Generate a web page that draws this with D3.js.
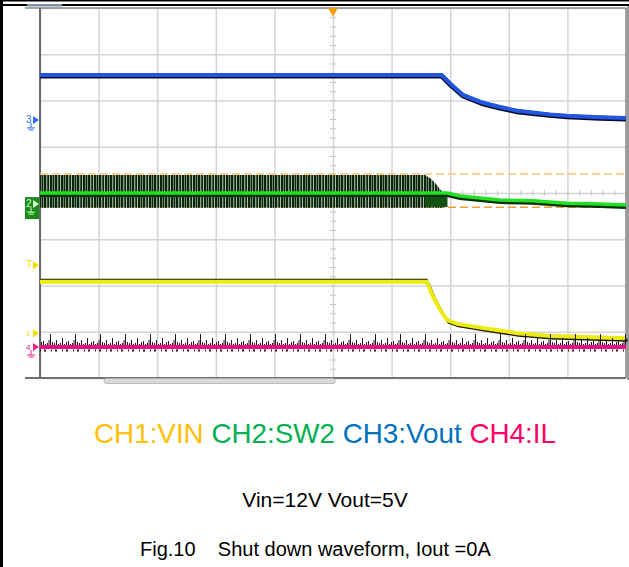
<!DOCTYPE html>
<html>
<head>
<meta charset="utf-8">
<script src="https://cdn.jsdelivr.net/npm/d3@7"></script>
<style>
  html, body { margin: 0; padding: 0; background: #fff; }
  svg { display: block; font-family: "Liberation Sans", Arial, sans-serif; }
</style>
</head>
<body>
<svg class="chart" width="629" height="567"></svg>
<script>
// time in screen divisions (0..10), level in divisions from centre (-4..4)

// CH3 Vout
var voutTime  = [0, 6.855, 6.997, 7.218, 7.56, 7.85, 8.14, 8.41, 8.70, 8.99, 9.56, 10];
var voutLevel = [2.55, 2.55, 2.37, 2.12, 1.95, 1.86, 1.78, 1.74, 1.70, 1.67, 1.64, 1.62];

// CH1 VIN
var vinTime  = [0, 6.60, 6.71, 6.83, 6.95, 7.12, 7.56, 8.14, 8.70, 10];
var vinLevel = [-1.92, -1.92, -2.25, -2.53, -2.75, -2.83, -2.92, -3.03, -3.09, -3.14];

// CH2 SW2 - mean trace and switching envelope
var swTime  = [0, 6.84, 6.95, 7.17, 7.85, 8.41, 8.99, 9.56, 10];
var swLevel = [0, 0, 0, -0.065, -0.15, -0.17, -0.22, -0.24, -0.26];
var swBandTime   = [0, 6.57, 6.66, 6.74, 6.84, 6.95];
var swBandTop    = [0.39, 0.39, 0.32, 0.22, 0.06, -0.04];
var swBandBottom = [-0.32, -0.32, -0.32, -0.32, -0.32, -0.30];

// CH4 IL
var ilTime  = [0, 10];
var ilLevel = [-3.33, -3.33];
var ilNoiseTop = -3.05;

// cursors (dashed orange)
var cursorLevels = [0.41, -0.31];

// channel markers on the left edge
var markerLabels = ["3", "2", "T", "1", "4"];
var markerLevels = [1.58, -0.24, -1.56, -3.03, -3.33];
var markerColors = ["#2a6cf0", "#1a8a1a", "#f0e000", "#f0e000", "#f0208a"];

var legendNames  = ["CH1:VIN", "CH2:SW2", "CH3:Vout", "CH4:IL"];
var legendColors = ["#ffc000", "#00b050", "#0070c0", "#ff0066"];

document.addEventListener("DOMContentLoaded", function() {

    var svg = d3.select("svg.chart");

    var x = d3.scaleLinear().domain([0, 10]).range([40, 626]);
    var y = d3.scaleLinear().domain([-4, 4]).range([378, 8]);

    function zip(t, v) {
        return t.map(function(d, i) { return {t: d, v: v[i]}; });
    }

    var line = d3.line()
        .x(function(d) { return x(d.t); })
        .y(function(d) { return y(d.v); });

    var defs = svg.append("defs");

    // switching stripes
    var sw = defs.append("pattern")
        .attr("id", "swStripes")
        .attr("patternUnits", "userSpaceOnUse")
        .attr("width", 11).attr("height", 400);
    sw.append("rect").attr("width", 11).attr("height", 400).attr("fill", "#aebcae");
    [[0, 2.2], [3.3, 1.7], [6, 2.4], [9, 1.3]].forEach(function(s) {
        sw.append("rect").attr("x", s[0]).attr("width", s[1]).attr("height", 400).attr("fill", "#0a260a");
    });

    // inductor current noise
    var noiseH = y(ilLevel[0]) - y(ilNoiseTop);
    var nz = defs.append("pattern")
        .attr("id", "ilNoise")
        .attr("patternUnits", "userSpaceOnUse")
        .attr("y", y(ilNoiseTop))
        .attr("width", 25).attr("height", noiseH);
    [[0, 13], [2, 5], [4, 4], [6, 7], [8, 3], [10, 4], [12, 9], [14, 3], [16, 5], [18, 6], [20, 3], [22, 4], [23.5, 7]].forEach(function(s) {
        nz.append("rect").attr("x", s[0]).attr("y", noiseH - s[1])
            .attr("width", 1).attr("height", s[1]).attr("fill", "#2a1020");
    });

    // page frame
    svg.append("line").attr("x1", 1.5).attr("x2", 1.5).attr("y1", 0).attr("y2", 567)
        .attr("stroke", "#000").attr("stroke-width", 3);
    svg.append("line").attr("x1", 0).attr("x2", 629).attr("y1", 0.75).attr("y2", 0.75)
        .attr("stroke", "#000").attr("stroke-width", 1.5);
    svg.append("line").attr("x1", 0).attr("x2", 629).attr("y1", 5).attr("y2", 5)
        .attr("stroke", "#000").attr("stroke-width", 2);
    svg.append("rect").attr("x", 27).attr("y", 4).attr("width", 35).attr("height", 2.5)
        .attr("fill", "#7d8fa8");

    // grid
    svg.append("g")
        .attr("class", "grid")
        .attr("transform", "translate(0," + y(-4) + ")")
        .call(d3.axisBottom(x).ticks(10).tickSize(-(y(-4) - y(4))).tickFormat(""))
        .call(function(g) {
            g.select(".domain").remove();
            g.selectAll("line").attr("stroke", "#d4d4d4").attr("stroke-width", 1.5);
        });
    svg.append("g")
        .attr("class", "grid")
        .attr("transform", "translate(" + x(0) + ",0)")
        .call(d3.axisLeft(y).ticks(8).tickSize(-(x(10) - x(0))).tickFormat(""))
        .call(function(g) {
            g.select(".domain").remove();
            g.selectAll("line").attr("stroke", "#d4d4d4").attr("stroke-width", 1.5);
        });

    // minor ticks on the centre lines
    svg.append("g")
        .attr("transform", "translate(0," + (y(0) - 3) + ")")
        .call(d3.axisBottom(x).tickValues(d3.range(0, 10.01, 0.2)).tickSize(6).tickFormat(""))
        .call(function(g) {
            g.select(".domain").remove();
            g.selectAll("line").attr("stroke", "#c8c8c8");
        });
    svg.append("g")
        .attr("transform", "translate(" + (x(5) + 3) + ",0)")
        .call(d3.axisLeft(y).tickValues(d3.range(-4, 4.01, 0.2)).tickSize(6).tickFormat(""))
        .call(function(g) {
            g.select(".domain").remove();
            g.selectAll("line").attr("stroke", "#c8c8c8");
        });

    // plot frame
    svg.append("line").attr("x1", 25).attr("x2", x(10)).attr("y1", y(4)).attr("y2", y(4))
        .attr("stroke", "#8a8a8a").attr("stroke-width", 1.5);
    svg.append("line").attr("x1", 25).attr("x2", x(10)).attr("y1", y(-4)).attr("y2", y(-4))
        .attr("stroke", "#707070").attr("stroke-width", 2);
    svg.append("line").attr("x1", x(0)).attr("x2", x(0)).attr("y1", y(4)).attr("y2", y(-4))
        .attr("stroke", "#6a6a6a").attr("stroke-width", 2);
    svg.append("line").attr("x1", x(10)).attr("x2", x(10)).attr("y1", y(4)).attr("y2", y(-4))
        .attr("stroke", "#8a8a8a").attr("stroke-width", 1.5);
    svg.append("line").attr("x1", 628).attr("x2", 628).attr("y1", 6).attr("y2", 380)
        .attr("stroke", "#9a9a9a").attr("stroke-width", 2);

    // scroll bar under the screen
    svg.append("rect").attr("x", 104).attr("y", 378.5).attr("width", 231).attr("height", 5)
        .attr("rx", 2).attr("fill", "#dadada").attr("stroke", "#b0b0b0").attr("stroke-width", 0.8);

    // cursors
    svg.selectAll("line.cursor")
        .data(cursorLevels)
        .enter().append("line")
        .attr("class", "cursor")
        .attr("x1", x(0)).attr("x2", x(10))
        .attr("y1", function(d) { return y(d); })
        .attr("y2", function(d) { return y(d); })
        .attr("stroke", function(d, i) { return i == 0 ? "#ffc27a" : "#f0a030"; })
        .attr("stroke-width", 1.5)
        .style("stroke-dasharray", "8, 4");

    // CH2 switching envelope
    var band = zip(swBandTime, swBandTop).map(function(d, i) {
        return {t: d.t, top: d.v, bot: swBandBottom[i]};
    });
    svg.append("path")
        .datum(band)
        .attr("fill", "url(#swStripes)")
        .attr("d", d3.area()
            .x(function(d) { return x(d.t); })
            .y0(function(d) { return y(d.bot); })
            .y1(function(d) { return y(d.top); }));
    svg.append("rect")
        .attr("x", x(swBandTime[1])).attr("y", y(0))
        .attr("width", x(swBandTime[5]) - x(swBandTime[1]))
        .attr("height", y(swBandBottom[5]) - y(0))
        .attr("fill", "#145214");

    var swData = zip(swTime, swLevel);
    svg.append("path").datum(swData)
        .attr("fill", "none").attr("stroke", "#0a300a").attr("stroke-width", 5)
        .attr("transform", "translate(0,1.5)")
        .attr("d", line);
    svg.append("path").datum(swData)
        .attr("fill", "none").attr("stroke", "#22e022").attr("stroke-width", 3.5)
        .attr("d", line);

    // CH3 Vout
    var voutData = zip(voutTime, voutLevel);
    svg.append("path").datum(voutData)
        .attr("fill", "none").attr("stroke", "#0a0a30").attr("stroke-width", 5)
        .attr("transform", "translate(0,1)")
        .attr("d", line);
    svg.append("path").datum(voutData)
        .attr("fill", "none").attr("stroke", "#2255e0").attr("stroke-width", 4)
        .attr("d", line);

    // CH1 VIN - black persistence above the flat part, below the falling part
    var vinData = zip(vinTime, vinLevel);
    svg.append("path").datum(vinData.slice(0, 3))
        .attr("fill", "none").attr("stroke", "#1a1a00").attr("stroke-width", 2)
        .attr("transform", "translate(0,-2)")
        .attr("d", line);
    svg.append("path").datum(vinData.slice(1))
        .attr("fill", "none").attr("stroke", "#1a1a00").attr("stroke-width", 3)
        .attr("transform", "translate(1.5,2)")
        .attr("d", line);
    svg.append("path").datum(vinData)
        .attr("fill", "none").attr("stroke", "#ecec10").attr("stroke-width", 4)
        .attr("d", line);

    // CH4 IL
    var ilData = zip(ilTime, ilLevel);
    svg.append("rect")
        .attr("x", x(0)).attr("y", y(ilNoiseTop))
        .attr("width", x(10) - x(0)).attr("height", noiseH)
        .attr("fill", "url(#ilNoise)");
    svg.append("path").datum(ilData)
        .attr("fill", "none").attr("stroke", "#301020").attr("stroke-width", 2)
        .attr("transform", "translate(0,3.5)")
        .style("stroke-dasharray", "1, 3, 2, 5")
        .attr("d", line);
    svg.append("path").datum(ilData)
        .attr("fill", "none").attr("stroke", "#e8107e").attr("stroke-width", 4)
        .attr("d", line);

    // trigger position marker
    svg.append("path")
        .attr("d", d3.symbol().type(d3.symbolTriangle).size(40))
        .attr("transform", "translate(" + x(5) + "," + (y(4) + 3) + ") rotate(180)")
        .attr("fill", "#ff9a00");

    // channel markers
    var mk = svg.selectAll("g.marker")
        .data(markerLabels)
        .enter().append("g")
        .attr("class", "marker")
        .attr("transform", function(d, i) { return "translate(0," + y(markerLevels[i]) + ")"; });
    mk.filter(function(d) { return d == "2"; })
        .append("rect")
        .attr("x", 25).attr("y", -7).attr("width", 14).attr("height", 22)
        .attr("fill", "#1a8a1a");
    mk.append("text")
        .attr("x", 26).attr("y", 3)
        .attr("font-size", function(d) { return d == "1" || d == "4" ? 8 : 10; })
        .attr("fill", function(d, i) { return d == "2" ? "#c8ffc8" : markerColors[i]; })
        .text(function(d) { return d; });
    mk.append("path")
        .attr("d", "M33,-4 L39,0 L33,4 Z")
        .attr("fill", function(d, i) { return d == "2" ? "#c8ffc8" : markerColors[i]; });
    mk.filter(function(d) { return d != "T" && d != "1"; })
        .append("path")
        .attr("d", "M31,3 L31,8 M27,8 L35,8 M28.5,10 L33.5,10")
        .attr("fill", "none")
        .attr("stroke-width", 1)
        .attr("stroke", function(d) { return d == "2" ? "#c8ffc8" : markerColors[markerLabels.indexOf(d)]; });

    // legend
    var legend = svg.append("text")
        .attr("x", 325).attr("y", 443)
        .attr("text-anchor", "middle")
        .attr("font-size", 27.8);
    legendNames.forEach(function(n, i) {
        legend.append("tspan")
            .attr("fill", legendColors[i])
            .text((i > 0 ? " " : "") + n);
    });

    svg.append("text")
        .attr("x", 325).attr("y", 507)
        .attr("text-anchor", "middle")
        .attr("font-size", 21)
        .attr("fill", "#000")
        .text("Vin=12V Vout=5V");

    svg.append("text")
        .attr("x", 140).attr("y", 556)
        .attr("font-size", 20)
        .attr("fill", "#000")
        .attr("xml:space", "preserve")
        .style("white-space", "pre")
        .text("Fig.10    Shut down waveform, Iout =0A");
});
</script>
</body>
</html>
